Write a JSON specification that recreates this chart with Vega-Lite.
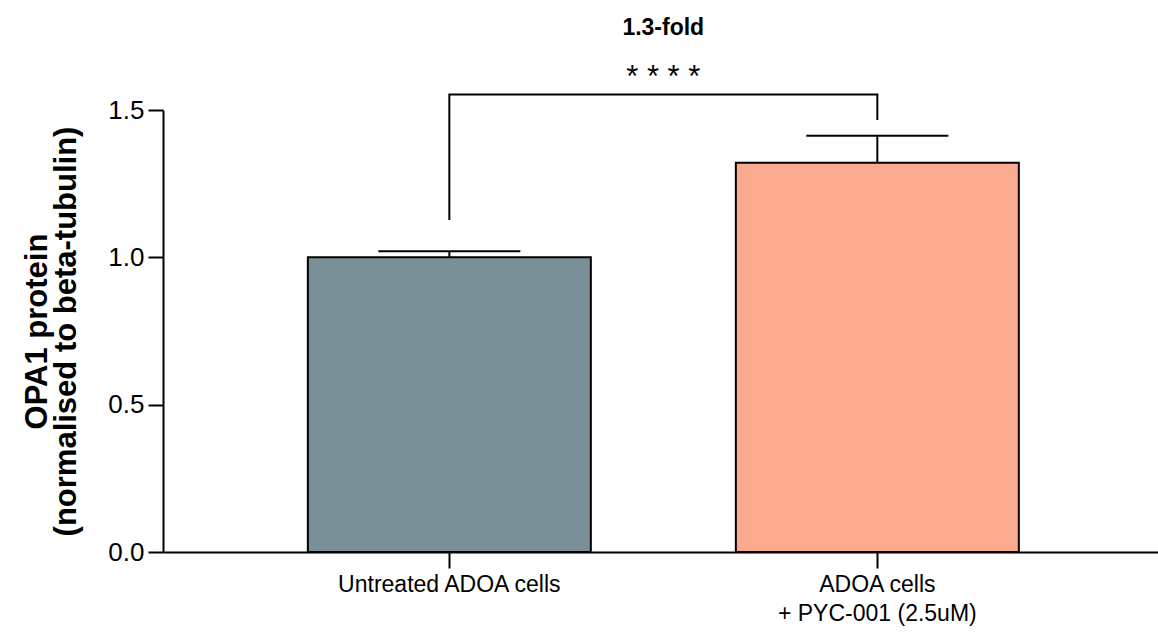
{
  "$schema": "https://vega.github.io/schema/vega-lite/v6.json",
  "autosize": {"type": "none"},
  "width": 995,
  "height": 442,
  "padding": {"left": 163, "top": 110, "right": 0, "bottom": 84},
  "background": "white",
  "config": {
    "view": {"stroke": null},
    "font": "Liberation Sans",
    "axis": {"labelFont": "Liberation Sans", "titleFont": "Liberation Sans", "labelColor": "black", "titleColor": "black", "domainColor": "black", "tickColor": "black", "grid": false}
  },
  "datasets": {
    "bars": [
      {"group": "Untreated ADOA cells", "mean": 1.0, "upper": 1.021},
      {"group": "ADOA cells\n+ PYC-001 (2.5uM)", "mean": 1.321, "upper": 1.413}
    ],
    "bracket": [
      {"group": "Untreated ADOA cells", "y": 1.127, "o": 1},
      {"group": "Untreated ADOA cells", "y": 1.553, "o": 2},
      {"group": "ADOA cells\n+ PYC-001 (2.5uM)", "y": 1.553, "o": 3},
      {"group": "ADOA cells\n+ PYC-001 (2.5uM)", "y": 1.466, "o": 4}
    ],
    "notes": [
      {"group": "Untreated ADOA cells", "y": 1.61, "label": "* * * *", "kind": "stars"},
      {"group": "Untreated ADOA cells", "y": 1.778, "label": "1.3-fold", "kind": "fold"}
    ]
  },
  "encoding": {
    "x": {
      "field": "group", "type": "nominal", "sort": null,
      "scale": {"domain": ["Untreated ADOA cells", "ADOA cells\n+ PYC-001 (2.5uM)"], "paddingInner": 0.3388, "paddingOuter": 0.3318, "align": 0.51},
      "axis": {"title": null, "labelAngle": 0, "labelFontSize": 23, "labelPadding": 5, "labelLimit": 600, "tickSize": 16, "tickWidth": 2, "domainWidth": 2, "labelExpr": "split(datum.label, '\\n')", "labelLineHeight": 29}
    }
  },
  "layer": [
    {
      "data": {"name": "bars"},
      "mark": {"type": "bar", "stroke": "black", "strokeWidth": 2},
      "encoding": {
        "y": {
          "field": "mean", "type": "quantitative",
          "scale": {"domain": [0, 1.5], "nice": false},
          "axis": {"values": [0, 0.5, 1, 1.5], "format": ".1f", "labelFontSize": 26, "labelPadding": 4, "tickSize": 15, "tickWidth": 2, "domainWidth": 2,
            "title": ["OPA1 protein", "(normalised to beta-tubulin)"], "titleFontSize": 31, "titleFontWeight": "bold", "titlePadding": 25, "titleLineHeight": 29}
        },
        "color": {"field": "group", "type": "nominal", "scale": {"domain": ["Untreated ADOA cells", "ADOA cells\n+ PYC-001 (2.5uM)"], "range": ["#7B8F99", "#FBAA90"]}, "legend": null}
      }
    },
    {
      "data": {"name": "bars"},
      "mark": {"type": "rule", "color": "black", "strokeWidth": 2},
      "encoding": {
        "y": {"field": "mean", "type": "quantitative"},
        "y2": {"field": "upper"}
      }
    },
    {
      "data": {"name": "bars"},
      "mark": {"type": "tick", "orient": "horizontal", "size": 142, "thickness": 2, "color": "black", "opacity": 1},
      "encoding": {
        "y": {"field": "upper", "type": "quantitative"}
      }
    },
    {
      "data": {"name": "bracket"},
      "mark": {"type": "line", "color": "black", "strokeWidth": 2},
      "encoding": {
        "y": {"field": "y", "type": "quantitative"},
        "order": {"field": "o", "type": "quantitative"}
      }
    },
    {
      "data": {"name": "notes"},
      "transform": [{"filter": "datum.kind === 'stars'"}],
      "mark": {"type": "text", "fontSize": 31, "color": "black", "baseline": "middle", "align": "center"},
      "encoding": {
        "x": {"field": "group", "type": "nominal", "bandPosition": 1.256},
        "y": {"field": "y", "type": "quantitative"},
        "text": {"field": "label"}
      }
    },
    {
      "data": {"name": "notes"},
      "transform": [{"filter": "datum.kind === 'fold'"}],
      "mark": {"type": "text", "fontSize": 23, "fontWeight": "bold", "color": "black", "baseline": "middle", "align": "center"},
      "encoding": {
        "x": {"field": "group", "type": "nominal", "bandPosition": 1.256},
        "y": {"field": "y", "type": "quantitative"},
        "text": {"field": "label"}
      }
    }
  ]
}
